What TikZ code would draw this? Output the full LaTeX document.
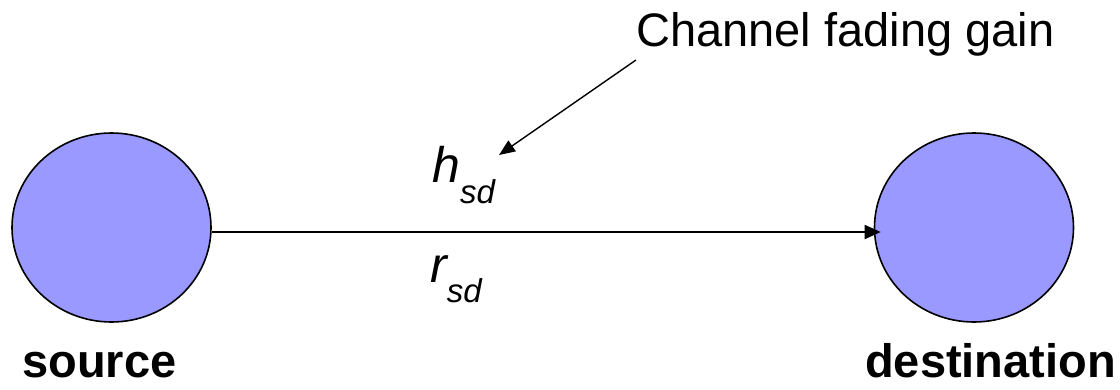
\documentclass[tikz,border=0pt]{standalone}
\usepackage{fontspec}
\setmainfont{Liberation Sans}
\usetikzlibrary{arrows.meta,shapes.geometric}
\definecolor{nodeblue}{HTML}{9999FF}
\tikzset{
  station/.style={ellipse, draw=black, line width=1.6pt, fill=nodeblue, minimum width=199pt, minimum height=189pt, inner sep=0pt},
  link/.style={line width=1.8pt, -{Triangle[length=16pt,width=14pt]}},
  pointer/.style={line width=1.4pt, -{Triangle[length=16pt,width=13pt]}},
  lbl/.style={inner sep=0pt, font=\fontsize{47}{56}\selectfont},
  blbl/.style={inner sep=0pt, font=\fontsize{47}{56}\selectfont\bfseries},
  mlbl/.style={inner sep=0pt, font=\fontsize{50}{60}\selectfont\itshape}
}
\begin{document}
\begin{tikzpicture}[x=1pt,y=-1pt]
\useasboundingbox (0,0) rectangle (1120,389);
\node[station] (src) at (111.5,227.5) {};
\node[station] (dst) at (974,227.5) {};
\node[lbl, anchor=base west] (cfg) at (636,46) {Channel fading gain};
\node[mlbl, anchor=base west] (h) at (432,182) {h\raisebox{-21pt}{\fontsize{33}{40}\selectfont sd}};
\node[mlbl, anchor=base west] (r) at (430,282) {r\raisebox{-20pt}{\fontsize{33}{40}\selectfont sd}};
\node[blbl, anchor=base west] (srclbl) at (22,377) {source};
\node[blbl, anchor=base west] (dstlbl) at (865,377) {destination};
\coordinate (pstart) at (636,60);
\coordinate (pend) at (499,155);
\draw[pointer] (pstart) -- (pend);
\draw[link] ([yshift=-4.5pt]src.east) -- ([xshift=7pt,yshift=-4.5pt]dst.west);
\end{tikzpicture}
\end{document}
